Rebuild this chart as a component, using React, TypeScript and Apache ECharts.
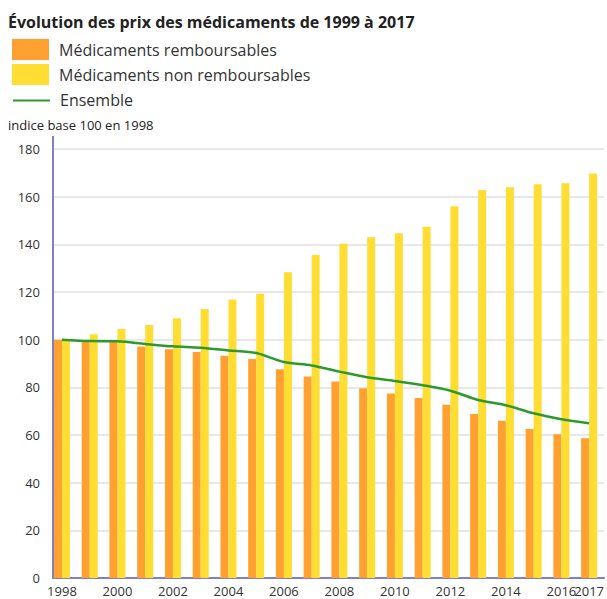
import React, { useEffect, useRef } from "react";
import * as echarts from "echarts";

const years = [1998, 1999, 2000, 2001, 2002, 2003, 2004, 2005, 2006, 2007, 2008, 2009, 2010, 2011, 2012, 2013, 2014, 2015, 2016, 2017];
const remboursables = [100, 99.2, 99.1, 97.1, 96.0, 94.8, 93.2, 91.9, 87.6, 84.5, 82.4, 79.6, 77.4, 75.5, 72.7, 68.8, 66.0, 62.5, 60.3, 58.6];
const nonRemboursables = [100, 102.3, 104.5, 106.2, 109.0, 112.9, 116.9, 119.3, 128.3, 135.5, 140.2, 143.0, 144.6, 147.4, 156.0, 162.8, 163.9, 165.2, 165.6, 169.7];
const ensemble = [100, 99.4, 99.3, 98.2, 97.2, 96.6, 95.5, 94.4, 90.6, 89.2, 86.6, 84.2, 82.7, 80.9, 78.6, 74.7, 72.5, 69.1, 66.6, 64.9];
const xLabels = [1998, 2000, 2002, 2004, 2006, 2008, 2010, 2012, 2014, 2016];
const xLastLabel = [2017];

const TITLE = "Évolution des prix des médicaments de 1999 à 2017";
const SUBTITLE = "indice base 100 en 1998";
const NAMES = ["Médicaments remboursables", "Médicaments non remboursables", "Ensemble"];

const FONT = "'Open Sans', sans-serif";
const AXIS_COLOR = "#8080c8";
const GREEN = "#2e9a2e";
const X_MIN = 1997.677;
const X_MAX = 2017.537;

export default function App() {
  const ref = useRef<HTMLDivElement>(null);
  useEffect(() => {
    if (!ref.current) return;
    const chart = echarts.init(ref.current, null, { renderer: "svg" });
    const pairs = (vals: number[]) => years.map((y, i) => [y, vals[i]]);
    const legendText = { fontFamily: FONT, fontSize: 16, color: "#333", padding: [0, 0, 0, 5] };
    const xLabelStyle = {
      formatter: (v: number) => String(v),
      hideOverlap: false,
      fontFamily: FONT,
      fontSize: 13,
      color: "#333",
      margin: 6,
    };
    chart.setOption({
      animation: false,
      textStyle: { fontFamily: FONT },
      title: {
        text: TITLE,
        left: 8,
        top: 14,
        padding: 0,
        textStyle: { fontFamily: FONT, fontSize: 16, fontWeight: "bold", color: "#222" },
      },
      legend: [
        {
          orient: "vertical",
          left: 12,
          top: 39,
          padding: 0,
          itemWidth: 37,
          itemHeight: 21,
          itemGap: 4,
          data: [
            { name: NAMES[0], icon: "rect" },
            { name: NAMES[1], icon: "rect" },
          ],
          textStyle: legendText,
        },
        {
          orient: "vertical",
          left: 12,
          top: 92,
          padding: 0,
          itemWidth: 37,
          itemHeight: 21,
          data: [
            { name: NAMES[2], itemStyle: { color: "rgba(0,0,0,0)", borderColor: "rgba(0,0,0,0)", borderWidth: 0 } },
          ],
          textStyle: legendText,
        },
      ],
      grid: { left: 53, right: 0, top: 149, bottom: 21, containLabel: false },
      xAxis: [
        {
          type: "value",
          min: X_MIN,
          max: X_MAX,
          axisLine: { show: true, lineStyle: { color: AXIS_COLOR, width: 2 } },
          axisTick: { show: false },
          splitLine: { show: false },
          axisLabel: { ...xLabelStyle, customValues: xLabels },
        },
        {
          type: "value",
          position: "bottom",
          min: X_MIN,
          max: X_MAX,
          axisLine: { show: false },
          axisTick: { show: false },
          splitLine: { show: false },
          axisLabel: { ...xLabelStyle, customValues: xLastLabel },
        },
      ],
      yAxis: {
        type: "value",
        min: 0,
        max: 180,
        interval: 20,
        axisLine: { show: true, lineStyle: { color: AXIS_COLOR, width: 2 } },
        axisTick: { show: false },
        splitLine: { show: true, lineStyle: { color: "#e8e8e8", width: 2 } },
        axisLabel: { fontFamily: FONT, fontSize: 13, color: "#333", margin: 13 },
      },
      graphic: [
        {
          type: "text",
          left: 8,
          top: 118,
          style: { text: SUBTITLE, fontFamily: FONT, fontSize: 13, fill: "#222" },
        },
        {
          type: "line",
          shape: { x1: 53, y1: 136, x2: 53, y2: 150 },
          style: { stroke: AXIS_COLOR, lineWidth: 2 },
        },
      ],
      series: [
        {
          name: NAMES[0],
          type: "bar",
          data: pairs(remboursables),
          barWidth: 8,
          barGap: "0%",
          itemStyle: { color: "#ffa030" },
        },
        {
          name: NAMES[1],
          type: "bar",
          data: pairs(nonRemboursables),
          barWidth: 8,
          barGap: "0%",
          itemStyle: { color: "#ffdd33" },
        },
        {
          name: NAMES[2],
          type: "line",
          data: pairs(ensemble),
          symbol: "none",
          smooth: 0.3,
          z: 5,
          lineStyle: { color: GREEN, width: 2.5 },
          itemStyle: { color: GREEN },
        },
      ],
    });
    return () => chart.dispose();
  }, []);
  return (
    <div
      ref={ref}
      style={{ position: "fixed", left: 0, top: 0, width: 607, height: 599, background: "#fff" }}
    />
  );
}
